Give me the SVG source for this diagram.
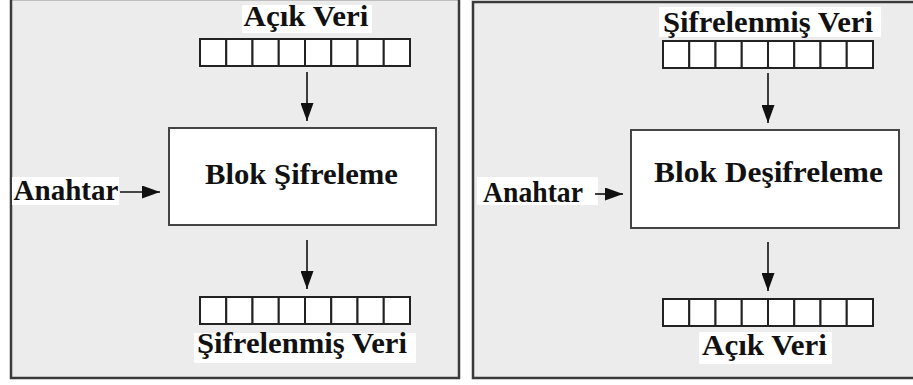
<svg xmlns="http://www.w3.org/2000/svg" width="913" height="385" viewBox="0 0 913 385">
  <style>
    .panel { fill: #ececec; stroke: #3a3a3a; stroke-width: 2.5; }
    .box { fill: #ffffff; stroke: #444444; stroke-width: 2; }
    .cell { fill: #ffffff; stroke: #222222; stroke-width: 2; }
    .lblbg { fill: #ffffff; }
    .txt { font-family: "Liberation Serif", "Times New Roman", serif; font-weight: bold; font-size: 29px; fill: #111111; text-anchor: middle; }
    .wire { stroke: #111111; stroke-width: 1.6; fill: none; marker-end: url(#head); }
  </style>
  <defs>
    <marker id="head" viewBox="0 0 10 10" refX="10" refY="5" markerWidth="18" markerHeight="13" markerUnits="userSpaceOnUse" orient="auto" preserveAspectRatio="none">
      <path d="M0,0 L10,5 L0,10 Z" fill="#111111"/>
    </marker>
    <!-- 8-bit register row -->
    <g id="register">
      <rect class="cell" x="0" y="0" width="26.25" height="27"/>
      <rect class="cell" x="26.25" y="0" width="26.25" height="27"/>
      <rect class="cell" x="52.5" y="0" width="26.25" height="27"/>
      <rect class="cell" x="78.75" y="0" width="26.25" height="27"/>
      <rect class="cell" x="105" y="0" width="26.25" height="27"/>
      <rect class="cell" x="131.25" y="0" width="26.25" height="27"/>
      <rect class="cell" x="157.5" y="0" width="26.25" height="27"/>
      <rect class="cell" x="183.75" y="0" width="26.25" height="27"/>
    </g>
  </defs>

  <rect x="0" y="0" width="913" height="385" fill="#ffffff"/>

  <!-- Encryption panel -->
  <g id="panel-encrypt">
    <rect class="panel" x="11" y="-1" width="448" height="379"/>
  </g>
  <!-- Decryption panel -->
  <g id="panel-decrypt">
    <rect class="panel" x="473" y="2" width="450" height="376"/>
  </g>

  <!-- Encryption side -->
  <g id="plain-in">
    <rect class="lblbg" x="242" y="5" width="130" height="28"/>
    <text class="txt" x="306" y="26" textLength="125" lengthAdjust="spacingAndGlyphs">Açık Veri</text>
    <use href="#register" x="200" y="39"/>
  </g>
  <g id="block-encrypt">
    <rect class="box" x="169" y="128" width="267" height="97"/>
    <text class="txt" x="301.5" y="184" textLength="193" lengthAdjust="spacingAndGlyphs">Blok Şifreleme</text>
  </g>
  <g id="key-encrypt">
    <rect class="lblbg" x="12" y="177" width="107" height="28"/>
    <text class="txt" x="66" y="200" textLength="105" lengthAdjust="spacingAndGlyphs">Anahtar</text>
  </g>
  <g id="cipher-out">
    <use href="#register" x="200" y="297"/>
    <rect class="lblbg" x="194" y="333" width="222" height="30"/>
    <text class="txt" x="302" y="353" textLength="210" lengthAdjust="spacingAndGlyphs">Şifrelenmiş Veri</text>
  </g>

  <!-- Decryption side -->
  <g id="cipher-in">
    <rect class="lblbg" x="659" y="7" width="222" height="30"/>
    <text class="txt" x="768" y="32" textLength="210" lengthAdjust="spacingAndGlyphs">Şifrelenmiş Veri</text>
    <use href="#register" x="663" y="41"/>
  </g>
  <g id="block-decrypt">
    <rect class="box" x="631" y="130" width="268" height="98"/>
    <text class="txt" x="768.5" y="182" textLength="229" lengthAdjust="spacingAndGlyphs">Blok Deşifreleme</text>
  </g>
  <g id="key-decrypt">
    <rect class="lblbg" x="477" y="177" width="121" height="28"/>
    <text class="txt" x="533" y="202" textLength="100" lengthAdjust="spacingAndGlyphs">Anahtar</text>
  </g>
  <g id="plain-out">
    <use href="#register" x="663" y="299"/>
    <rect class="lblbg" x="699" y="332" width="133" height="32"/>
    <text class="txt" x="764.5" y="355" textLength="125" lengthAdjust="spacingAndGlyphs">Açık Veri</text>
  </g>

  <g id="connectors">
    <line class="wire" x1="307" y1="72" x2="307" y2="121"/>
    <line class="wire" x1="307" y1="240" x2="307" y2="289"/>
    <line class="wire" x1="120" y1="192" x2="160" y2="192"/>
    <line class="wire" x1="768" y1="73" x2="768" y2="123"/>
    <line class="wire" x1="768" y1="242" x2="768" y2="291"/>
    <line class="wire" x1="595" y1="194" x2="623" y2="194"/>
  </g>
</svg>
